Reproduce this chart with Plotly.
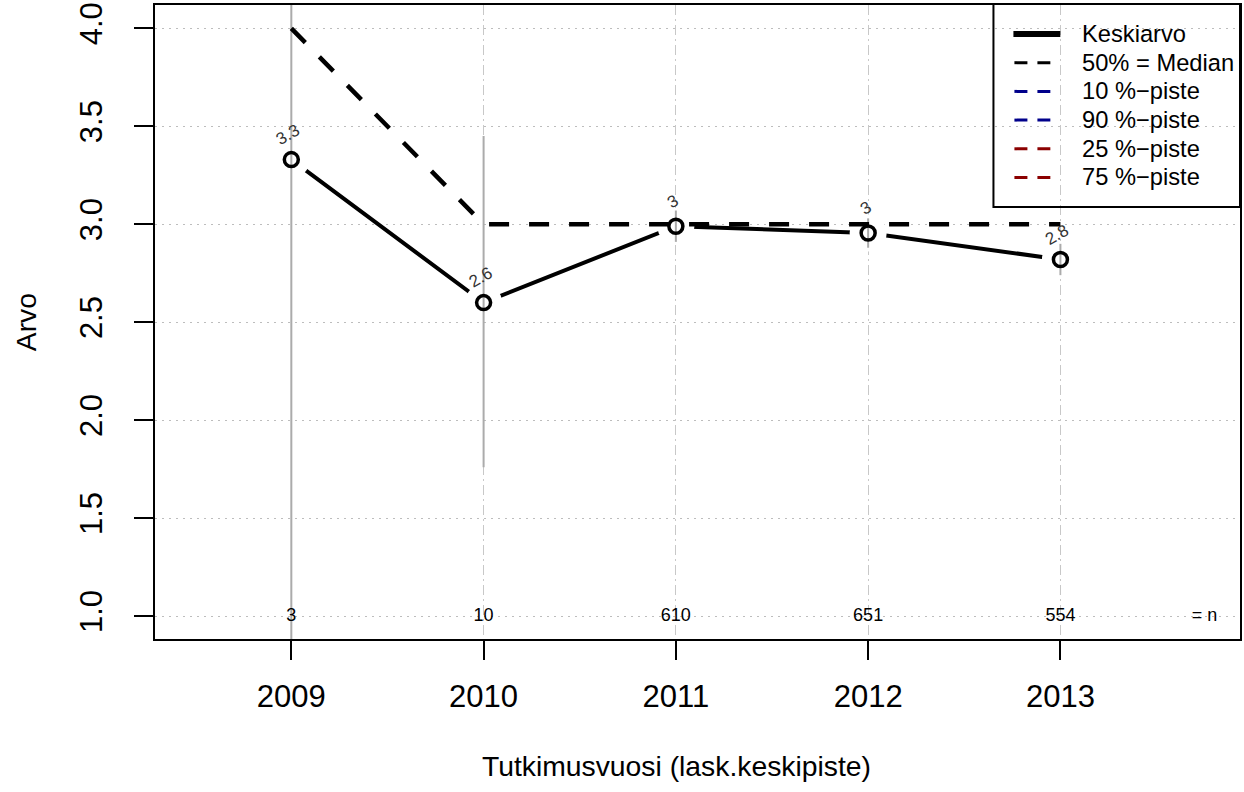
import plotly.graph_objects as go

vuodet = [2009, 2010, 2011, 2012, 2013]
keskiarvo = [3.33, 2.60, 2.99, 2.955, 2.82]
mediaani = [4.0, 3.0, 3.0, 3.0, 3.0]
ci_ala = [0.45, 1.76, 2.91, 2.88, 2.74]
ci_yla = [6.20, 3.45, 3.07, 3.03, 2.90]
arvo_tekstit = ["3.3", "2.6", "3", "3", "2.8"]
n_arvot = ["3", "10", "610", "651", "554"]

legend_nimet = ["Keskiarvo", "50% = Median", "10 %\u2212piste", "90 %\u2212piste",
                "25 %\u2212piste", "75 %\u2212piste"]
legend_varit = ["black", "black", "#00008B", "#00008B", "#8B0000", "#8B0000"]

FONT = "Liberation Sans, Arial, sans-serif"

# plot area in pixels
L, R, T, B = 155, 1242, 5, 639
W, H = 1244, 792


def px(xp):
    return (xp - L) / (R - L)


def py(yp):
    return (B - yp) / (B - T)


fig = go.Figure()

# keskiarvoviiva
fig.add_trace(go.Scatter(x=vuodet, y=keskiarvo, mode="lines",
                         line=dict(color="black", width=4), showlegend=False))
# valkoinen rako pisteiden ympärille (type="b")
fig.add_trace(go.Scatter(x=vuodet, y=keskiarvo, mode="markers",
                         marker=dict(size=37, color="white", line=dict(width=0)),
                         showlegend=False))

# luottamusvälit
ci_x, ci_y = [], []
for v, a, b in zip(vuodet, ci_ala, ci_yla):
    ci_x += [v, v, None]
    ci_y += [a, b, None]
fig.add_trace(go.Scatter(x=ci_x, y=ci_y, mode="lines",
                         line=dict(color="#ababab", width=2), showlegend=False))

# mediaani
fig.add_trace(go.Scatter(x=vuodet, y=mediaani, mode="lines",
                         line=dict(color="black", width=4.5, dash="20px,20px"),
                         showlegend=False))

# pisteet
fig.add_trace(go.Scatter(x=vuodet, y=keskiarvo, mode="markers",
                         marker=dict(size=14, color="rgba(0,0,0,0)",
                                     line=dict(color="black", width=3.5)),
                         showlegend=False))

# n-arvot
fig.add_trace(go.Scatter(x=vuodet + [2013.75], y=[1.0] * 6, mode="text",
                         text=n_arvot + ["= n"],
                         textfont=dict(family=FONT, size=18, color="black"),
                         showlegend=False))

annot = []
for v, k, t in zip(vuodet, keskiarvo, arvo_tekstit):
    annot.append(dict(x=v, y=k, text=t, showarrow=False, textangle=-30,
                      xshift=-3, yshift=25,
                      font=dict(family=FONT, size=17, color="#333333")))

# selite
shapes = [dict(type="rect", xref="paper", yref="paper",
               x0=px(995), x1=px(1242), y0=py(207), y1=py(4),
               line=dict(color="black", width=2), fillcolor="rgba(0,0,0,0)")]
for i, (nimi, vari) in enumerate(zip(legend_nimet, legend_varit)):
    yrow = 34 + i * 28.7
    if i == 0:
        shapes.append(dict(type="line", xref="paper", yref="paper",
                           x0=px(1015), x1=px(1062), y0=py(yrow), y1=py(yrow),
                           line=dict(color=vari, width=6)))
    else:
        shapes.append(dict(type="line", xref="paper", yref="paper",
                           x0=px(1016), x1=px(1052), y0=py(yrow), y1=py(yrow),
                           line=dict(color=vari, width=3, dash="13px,10px")))
    annot.append(dict(x=px(1082), y=py(yrow), xref="paper", yref="paper",
                      text=nimi, showarrow=False, xanchor="left", yanchor="middle",
                      font=dict(family=FONT, size=23.7, color="black")))

# akselien otsikot
annot.append(dict(x=px(677), y=py(766), xref="paper", yref="paper",
                  text="Tutkimusvuosi (lask.keskipiste)", showarrow=False,
                  xanchor="center", yanchor="middle",
                  font=dict(family=FONT, size=28.3, color="black")))
annot.append(dict(x=px(26), y=0.5, xref="paper", yref="paper", text="Arvo",
                  showarrow=False, textangle=-90, xanchor="center",
                  font=dict(family=FONT, size=28.3, color="black")))

fig.update_layout(
    width=W, height=H,
    margin=dict(l=L, r=W - R, t=T, b=H - B),
    paper_bgcolor="white",
    plot_bgcolor="white",
    font=dict(family=FONT, size=28, color="black"),
    shapes=shapes,
    annotations=annot,
    showlegend=False,
)

fig.update_xaxes(
    range=[2008.291, 2013.934],
    tickvals=vuodet, ticktext=[str(v) for v in vuodet],
    ticks="outside", ticklen=19, tickwidth=2, tickcolor="black",
    tickfont=dict(family=FONT, size=31, color="black"),
    ticklabelstandoff=10,
    showline=True, linewidth=2, linecolor="black", mirror=True,
    showgrid=True, gridcolor="#c8c8c8", gridwidth=1, griddash="10px,4px,2px,4px",
    zeroline=False,
)
fig.update_yaxes(
    range=[0.883, 4.119],
    tickvals=[1.0, 1.5, 2.0, 2.5, 3.0, 3.5, 4.0],
    ticktext=["1.0", "1.5", "2.0", "2.5", "3.0", "3.5", "4.0"],
    tickangle=-90,
    ticks="outside", ticklen=19, tickwidth=2, tickcolor="black",
    tickfont=dict(family=FONT, size=31, color="black"),
    ticklabelstandoff=20,
    showline=True, linewidth=2, linecolor="black", mirror=True,
    showgrid=True, gridcolor="#bdbdbd", gridwidth=1, griddash="1.5px,5.5px",
    zeroline=False,
)

# sivun oletusreunus pois, jotta kuva alkaa vasemmasta yläkulmasta
fig.write_html("out.html",
               config={"displayModeBar": False},
               post_script="document.body.style.margin='0px';"
                           "document.body.style.overflow='hidden';")
